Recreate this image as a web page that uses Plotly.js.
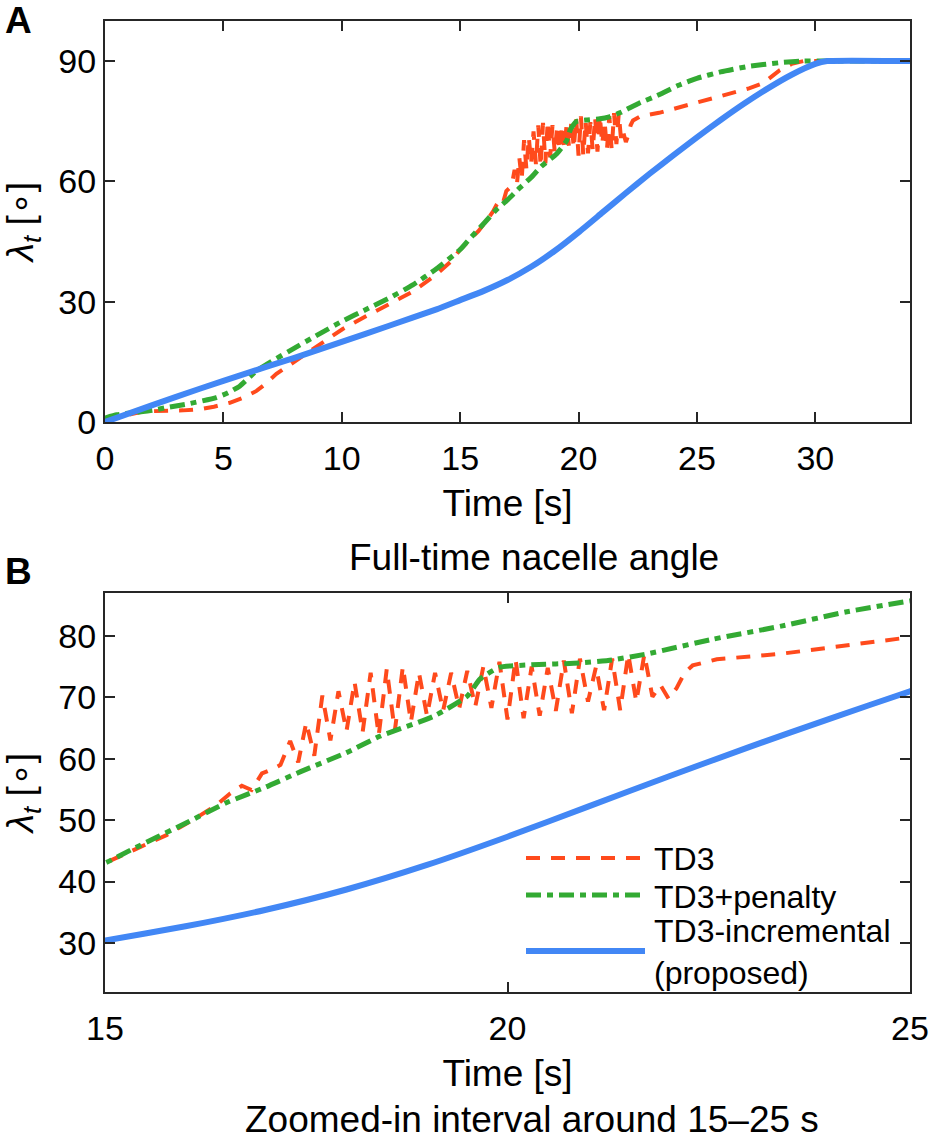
<!DOCTYPE html>
<html>
<head>
<meta charset="utf-8">
<script src="https://cdn.plot.ly/plotly-3.0.1.min.js"></script>
<style>
  html, body { margin: 0; padding: 0; background: #ffffff; }
  #chart { width: 931px; height: 1142px; }
</style>
</head>
<body>
<div id="chart"></div>
<script>
// ---------------- data ----------------
const seriesNames = ["TD3", "TD3+penalty", "TD3-incremental<br>(proposed)"];

// TD3 (red dashed)
const tTD3 = [0, 0.5, 1.0, 1.5, 2.0, 2.6, 3.3, 4.0, 4.6, 5.27, 5.8, 6.4, 6.8, 7.24, 8.0, 8.65, 9.3, 10.04, 11.0, 12.03, 13.0, 14.0, 14.6, 15.0,
  15.44, 15.77, 16.1, 16.39, 16.55, 16.7, 16.82, 16.95, 17.08, 17.18,
  17.3, 17.4, 17.5, 17.6, 17.7, 17.8, 17.9, 18.0, 18.1, 18.2, 18.3, 18.4, 18.5, 18.6, 18.7, 18.8, 18.9, 19.0,
  19.1, 19.2, 19.3, 19.4, 19.5, 19.6, 19.7, 19.8, 19.9, 20.0, 20.1, 20.2, 20.3, 20.4, 20.5, 20.6, 20.7, 20.8,
  20.9, 21.0, 21.1, 21.2, 21.3, 21.4, 21.5, 21.6, 21.7, 21.8, 21.9, 22.0,
  22.1, 22.2, 22.3, 22.6, 23.4, 24.2, 25.0, 26.4, 27.2, 27.8, 28.5, 29.0, 29.5, 34];
const yTD3 = [0.5, 1.2, 2.0, 2.5, 2.7, 2.75, 2.9, 3.2, 3.8, 4.8, 6.0, 7.75, 9.6, 12.0, 15.0, 17.75, 20.3, 23.2, 26.3, 29.5, 32.5, 36.8, 40.0, 43.0,
  45.7, 47.6, 50.1, 52.5, 54.3, 55.6, 54.9, 57.6, 58.3, 59.0,
  62.9, 59.4, 65.9, 60.5, 70.3, 63.0, 71.0, 64.5, 72.5, 64.3, 74.0, 63.8, 74.6, 64.5, 75.0, 66.0, 74.0, 67.0,
  74.0, 67.8, 74.0, 68.2, 74.3, 68.5, 75.0, 68.3, 75.8, 66.4, 76.2, 66.6, 75.0, 67.0, 74.8, 67.8, 76.0, 67.4,
  76.3, 69.3, 75.0, 67.9, 76.3, 67.9, 77.0, 69.3, 77.0, 70.1, 72.0, 69.8,
  71.5, 74.0, 75.2, 76.2, 77.1, 78.4, 79.8, 82.0, 83.2, 84.5, 87.75, 89.3, 90, 90];

// TD3+penalty (green dash-dot)
const tPen = [0, 0.5, 1.0, 2.0, 2.6, 3.5, 4.7, 5.2, 5.7, 6.4, 7.0, 7.8, 9.0, 10.04, 11.0, 12.03, 13.0, 14.0, 15.0,
  15.33, 16.0, 16.52, 17.0, 17.43, 18.0, 18.42, 19.08, 19.5, 19.66, 19.9, 20.3, 20.9, 21.3, 21.74, 22.56, 23.4, 24.2, 25.0,
  26.0, 27.1, 28.5, 29.5, 34];
const yPen = [1.0, 1.8, 2.2, 2.9, 3.6, 4.5, 6.1, 7.3, 9.0, 12.75, 15.0, 17.75, 21.8, 25.2, 28.0, 31.0, 34.2, 38.2, 43.0,
  45.2, 49.5, 52.9, 55.4, 57.9, 61.0, 63.7, 66.9, 70.2, 73.0, 74.9, 75.3, 75.6, 76.1, 77.1, 79.5, 81.6, 83.9, 85.7,
  87.3, 88.6, 89.6, 90, 90];

// TD3-incremental (proposed, blue solid)
const tInc = [0, 2, 4, 6, 8, 10, 12, 14, 15, 16, 17, 18, 19, 20, 21, 22, 23, 24, 25, 26, 27, 28, 29, 30, 30.5, 34];
const yInc = [0, 4.2, 8.3, 12.2, 16.0, 20.0, 24.0, 28.1, 30.4, 32.7, 35.4, 38.7, 42.7, 47.3, 52.2, 57.1, 61.9, 66.5, 71.0, 75.3, 79.4, 83.2, 86.6, 89.3, 90, 90];

// tick labels
const xTicksA = [0, 5, 10, 15, 20, 25, 30];
const yTicksA = [0, 30, 60, 90];
const xTicksB = [15, 20, 25];
const yTicksB = [30, 40, 50, 60, 70, 80];

// ---------------- styling ----------------
const W = 931, H = 1142;
const px = x => x / W;
const py = y => 1 - y / H;

const cRed = '#FF4A1C', cGreen = '#33AA33', cBlue = '#4287F5';
const dRed = '14px,11px', dGreen = '15px,6px,6px,6px';
const wRed = 4, wGreen = 5, wBlue = 6;
const axCol = '#262626';
const fontFam = '"Liberation Sans", Arial, Helvetica, sans-serif';

function tr(x, y, color, width, dash, shape, xa, ya) {
  const line = {color: color, width: width, dash: dash, shape: shape};
  if (shape === 'spline') line.smoothing = 0.5;
  return {x: x, y: y, type: 'scatter', mode: 'lines', xaxis: xa, yaxis: ya,
          line: line, showlegend: false, hoverinfo: 'skip'};
}

const data = [
  tr(tTD3, yTD3, cRed, wRed, dRed, 'linear', 'x', 'y'),
  tr(tPen, yPen, cGreen, wGreen, dGreen, 'spline', 'x', 'y'),
  tr(tInc, yInc, cBlue, wBlue, 'solid', 'spline', 'x', 'y'),
  tr(tTD3, yTD3, cRed, wRed, dRed, 'linear', 'x2', 'y2'),
  tr(tPen, yPen, cGreen, wGreen, dGreen, 'spline', 'x2', 'y2'),
  tr(tInc, yInc, cBlue, wBlue, 'solid', 'spline', 'x2', 'y2')
];

const tickFont = {family: fontFam, size: 34, color: '#000'};
const titleFont = {family: fontFam, size: 37, color: '#000'};

function xax(domain, range, ticks, anchor) {
  return {domain: domain, range: range, tickvals: ticks, ticktext: ticks.map(String), anchor: anchor,
    showline: true, linecolor: axCol, linewidth: 2, mirror: 'ticks', ticks: 'inside', ticklen: 10, tickwidth: 2,
    tickcolor: axCol, showgrid: false, zeroline: false, tickfont: tickFont, automargin: false, ticklabelstandoff: 5,
    title: {text: 'Time [s]', font: titleFont, standoff: 14}};
}
function yax(domain, range, ticks, anchor) {
  return {domain: domain, range: range, tickvals: ticks, ticktext: ticks.map(String), anchor: anchor,
    showline: true, linecolor: axCol, linewidth: 2, mirror: 'ticks', ticks: 'inside', ticklen: 10, tickwidth: 2,
    tickcolor: axCol, showgrid: false, zeroline: false, tickfont: tickFont, automargin: false,
    title: {text: '<i>λ</i><sub><i>t</i></sub> [∘]', font: titleFont, standoff: 14}};
}

const xDom = [px(105), px(910)];
const layout = {
  width: W, height: H,
  margin: {l: 0, r: 0, t: 0, b: 0, pad: 0},
  paper_bgcolor: '#fff', plot_bgcolor: '#fff',
  font: {family: fontFam, color: '#000'},
  showlegend: false,
  xaxis: xax(xDom, [0, 34], xTicksA, 'y'),
  yaxis: yax([py(422), py(21)], [0, 100], yTicksA, 'x'),
  xaxis2: xax(xDom, [15, 25], xTicksB, 'y2'),
  yaxis2: yax([py(992), py(593)], [22, 87], yTicksB, 'x2'),
  annotations: [
    {text: '<b>A</b>', x: px(3), y: py(21), xref: 'paper', yref: 'paper', xanchor: 'left', yanchor: 'middle', showarrow: false, font: {family: fontFam, size: 37, color: '#000'}},
    {text: '<b>B</b>', x: px(3), y: py(571), xref: 'paper', yref: 'paper', xanchor: 'left', yanchor: 'middle', showarrow: false, font: {family: fontFam, size: 37, color: '#000'}},
    {text: 'Full-time nacelle angle', x: px(534), y: py(557), xref: 'paper', yref: 'paper', xanchor: 'center', yanchor: 'middle', showarrow: false, font: titleFont},
    {text: 'Zoomed-in interval around 15\u201325 s', x: px(532), y: py(1119), xref: 'paper', yref: 'paper', xanchor: 'center', yanchor: 'middle', showarrow: false, font: titleFont},
    // legend labels
    {text: seriesNames[0], x: px(652), y: py(859), xref: 'paper', yref: 'paper', xanchor: 'left', yanchor: 'middle', showarrow: false, font: {family: fontFam, size: 32, color: '#000'}},
    {text: seriesNames[1], x: px(652), y: py(897), xref: 'paper', yref: 'paper', xanchor: 'left', yanchor: 'middle', showarrow: false, font: {family: fontFam, size: 32, color: '#000'}},
    {text: seriesNames[2], x: px(652), y: py(952), xref: 'paper', yref: 'paper', xanchor: 'left', yanchor: 'middle', align: 'left', showarrow: false, font: {family: fontFam, size: 32, color: '#000'}}
  ],
  shapes: [
    {type: 'line', xref: 'paper', yref: 'paper', x0: px(526), x1: px(645), y0: py(858), y1: py(858), line: {color: cRed, width: wRed, dash: dRed}},
    {type: 'line', xref: 'paper', yref: 'paper', x0: px(526), x1: px(645), y0: py(895), y1: py(895), line: {color: cGreen, width: wGreen, dash: dGreen}},
    {type: 'line', xref: 'paper', yref: 'paper', x0: px(526), x1: px(645), y0: py(951), y1: py(951), line: {color: cBlue, width: wBlue}}
  ]
};

Plotly.newPlot('chart', data, layout, {staticPlot: true, displayModeBar: false});
</script>
</body>
</html>
